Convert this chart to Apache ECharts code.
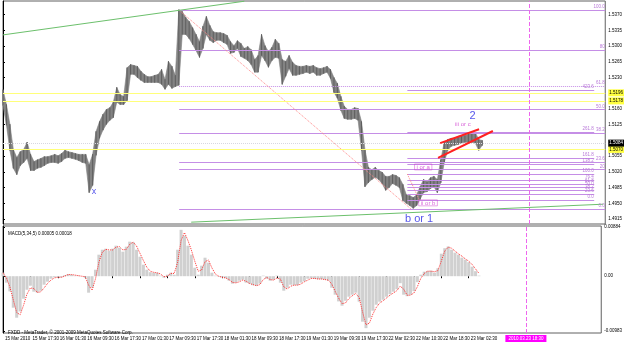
<!DOCTYPE html>
<html><head><meta charset="utf-8">
<script src="https://cdn.jsdelivr.net/npm/echarts@6/dist/echarts.min.js"></script>
<style>html,body{margin:0;padding:0;background:#fff}#c{width:625px;height:342px}</style>
</head><body><div id="c"></div>
<script>
// ---- time axis (trading hours from 15 Mar 09:30) ----
const tickLabels = ['15 Mar 2010','15 Mar 17:30','16 Mar 01:30','16 Mar 09:30','16 Mar 17:30','17 Mar 01:30','17 Mar 09:30','17 Mar 17:30','18 Mar 01:30','18 Mar 09:30','18 Mar 17:30','19 Mar 01:30','19 Mar 09:30','19 Mar 17:30','22 Mar 02:30','22 Mar 10:30','22 Mar 18:30','23 Mar 02:30'];
const tickHours = tickLabels.map((_, i) => i * 8);
const lastHourOnChart = 174.7;
const markerHour = 152.7;
const markerLabel = '2010.03.23 18:30';

// ---- EURUSD hourly high / low ----
const priceHigh = [1.5202,1.5169,1.5125,1.5069,1.5051,1.5064,1.5069,1.5085,1.5058,1.5042,1.5046,1.5049,1.5053,1.5053,1.5055,1.5058,1.5055,1.5060,1.5067,1.5064,
1.5062,1.5060,1.5058,1.5058,1.5058,1.5035,1.5058,1.5109,1.5131,1.5147,1.5158,1.5162,1.5174,1.5207,1.5191,1.5187,1.5251,1.5258,1.5256,1.5254,
1.5243,1.5236,1.5231,1.5231,1.5234,1.5236,1.5247,1.5225,1.5265,1.5254,1.5234,1.5380,1.5376,1.5363,1.5354,1.5340,1.5325,1.5309,1.5343,1.5365,
1.5345,1.5331,1.5329,1.5329,1.5327,1.5323,1.5309,1.5300,1.5311,1.5305,1.5294,1.5298,1.5291,1.5269,1.5278,1.5325,1.5300,1.5287,1.5296,1.5314,
1.5305,1.5269,1.5265,1.5278,1.5263,1.5256,1.5254,1.5254,1.5256,1.5254,1.5256,1.5251,1.5249,1.5251,1.5254,1.5247,1.5229,1.5216,1.5187,1.5165,
1.5158,1.5158,1.5162,1.5160,1.5131,1.5069,1.5029,1.5024,1.5029,1.5022,1.5018,1.5009,1.5009,1.5013,1.5011,1.5006,1.4991,1.4968,1.4966,1.4962,
1.4968,1.4986,1.5002,1.4997,1.5006,1.5009,1.5002,1.5046,1.5085,1.5091,1.5094,1.5094,1.5098,1.5100,1.5100,1.5103,1.5105,1.5107,1.5091,1.5089];
const priceLow = [1.5169,1.5125,1.5069,1.5029,1.5015,1.5035,1.5042,1.5051,1.5024,1.5024,1.5029,1.5031,1.5035,1.5040,1.5042,1.5042,1.5040,1.5044,1.5051,1.5053,
1.5051,1.5049,1.5046,1.5042,1.5040,1.4975,1.4991,1.5058,1.5096,1.5114,1.5127,1.5136,1.5142,1.5176,1.5171,1.5171,1.5180,1.5238,1.5238,1.5231,
1.5225,1.5220,1.5220,1.5220,1.5220,1.5220,1.5216,1.5205,1.5216,1.5207,1.5211,1.5214,1.5327,1.5327,1.5318,1.5305,1.5291,1.5276,1.5296,1.5327,
1.5314,1.5309,1.5314,1.5314,1.5309,1.5305,1.5285,1.5287,1.5296,1.5278,1.5274,1.5269,1.5260,1.5243,1.5243,1.5280,1.5269,1.5254,1.5269,1.5276,
1.5274,1.5216,1.5234,1.5251,1.5236,1.5236,1.5238,1.5240,1.5243,1.5240,1.5243,1.5236,1.5236,1.5240,1.5243,1.5229,1.5198,1.5185,1.5158,1.5140,
1.5138,1.5138,1.5140,1.5136,1.5069,1.4988,1.4997,1.5004,1.5009,1.5004,1.4995,1.4980,1.4986,1.4995,1.4991,1.4986,1.4957,1.4951,1.4946,1.4940,
1.4946,1.4960,1.4975,1.4977,1.4984,1.4988,1.4975,1.4997,1.5042,1.5069,1.5078,1.5080,1.5082,1.5085,1.5087,1.5087,1.5087,1.5085,1.5069,1.5080];

// ---- MACD(5,34,5) histogram and signal ----
const macdHist = [0.00063,-0.00116,-0.00272,-0.00564,-0.00743,-0.0063,-0.00403,-0.00242,-0.0017,-0.00277,-0.00295,-0.0026,-0.00152,-0.00098,-0.00045,-0.0002,-0.0002,-0.0002,0.00018,0.00036,
0.00027,0.0001,0.0001,0.0,-0.00027,-0.00295,-0.00206,0.00116,0.00385,0.00474,0.00492,0.00456,0.00492,0.00546,0.0051,0.00439,0.00528,0.00618,0.00609,0.00474,
0.00349,0.00206,0.00116,0.00072,0.00063,0.00063,0.0001,-0.00027,0.00027,0.00063,0.00027,0.00474,0.0083,0.00725,0.00546,0.00385,0.00152,0.00027,0.00188,0.00331,
0.00242,0.00063,0.0001,-0.0001,-0.0002,-0.00036,-0.0008,-0.00134,-0.00116,-0.0008,-0.00063,-0.00116,-0.00134,-0.00161,-0.0017,-0.00134,0.0001,-0.00045,-0.0008,-0.00063,
0.0001,-0.00116,-0.0026,-0.00206,-0.00152,-0.00161,-0.00161,-0.00116,-0.0009,-0.00045,-0.00036,-0.00045,-0.00054,-0.00054,-0.00063,-0.0008,-0.00206,-0.00331,-0.00451,-0.00528,
-0.00439,-0.00367,-0.00331,-0.00295,-0.00456,-0.00814,-0.0093,-0.00743,-0.00618,-0.0051,-0.00456,-0.00421,-0.00367,-0.00322,-0.00277,-0.00233,-0.00125,-0.00331,-0.00358,-0.00331,
-0.00268,-0.00107,0.00027,0.00081,0.0009,0.00098,0.00063,0.00143,0.00403,0.00501,0.00533,0.00474,0.00421,0.00385,0.00331,0.00295,0.00251,0.0017,0.0009,0.0001];
const macdSignal = [0.0006,-0.0003,-0.0019,-0.0042,-0.0065,-0.0069,-0.0052,-0.0032,-0.0021,-0.0022,-0.0029,-0.0028,-0.0021,-0.0013,-0.0007,-0.0003,-0.0002,-0.0002,0.0000,0.0003,
0.0003,0.0002,0.0001,0.0000,-0.0001,-0.0016,-0.0025,-0.0005,0.0025,0.0043,0.0048,0.0047,0.0047,0.0052,0.0053,0.0047,0.0048,0.0057,0.0061,0.0054,
0.0041,0.0028,0.0016,0.0009,0.0007,0.0006,0.0004,-0.0001,0.0000,0.0005,0.0005,0.0025,0.0064,0.0078,0.0064,0.0047,0.0027,0.0009,0.0011,0.0026,
0.0029,0.0015,0.0004,0.0000,-0.0002,-0.0003,-0.0006,-0.0011,-0.0012,-0.0010,-0.0007,-0.0009,-0.0013,-0.0015,-0.0017,-0.0015,-0.0006,-0.0002,-0.0006,-0.0007,
-0.0003,-0.0005,-0.0019,-0.0023,-0.0018,-0.0016,-0.0016,-0.0014,-0.0010,-0.0007,-0.0004,-0.0004,-0.0005,-0.0005,-0.0006,-0.0007,-0.0014,-0.0027,-0.0039,-0.0049,
-0.0048,-0.0040,-0.0035,-0.0031,-0.0038,-0.0064,-0.0087,-0.0084,-0.0068,-0.0056,-0.0048,-0.0044,-0.0039,-0.0034,-0.0030,-0.0026,-0.0018,-0.0023,-0.0034,-0.0034,
-0.0030,-0.0019,-0.0004,0.0005,0.0009,0.0009,0.0008,0.0010,0.0027,0.0045,0.0052,0.0050,0.0045,0.0040,0.0036,0.0031,0.0027,0.0021,0.0013,0.0005];

// ---- price axis labels ----
const priceTicks = [1.4915,1.4950,1.4985,1.5020,1.5055,1.5125,1.5160,1.5230,1.5265,1.5300,1.5335,1.5370];
const macdTicks = [0.00884, 0, -0.00983];
const macdTickLabels = ['0.00884','0.00','-0.00983'];

// ---- Fibonacci objects ----
const fibMainHigh = 1.5380, fibMainLow = 1.4937, fibMainStart = 51.1, fibMainEnd = 118.4;
const fibMainLevels = [0, 20, 23.6, 38.2, 50, 61.8, 80, 100];
const fibMainNames = ['0.0','20','23.6','38.2','50.0','61.8','80','100.0'];
const fib2High = 1.5015, fib2Low = 1.4957, fib2Start = 117.3, fib2End = 120.8;
const fib2Levels = [0, 23.6, 38.2, 50, 61.8, 76.4, 100, 138.2, 161.8, 261.8, 423.6];
const fib2Names = ['0.0','23.6','38.2','50.0','61.8','76.4','100.0','138.2','161.8','261.8','423.6'];

// ---- horizontal levels ----
const yellowLevels = [1.5196, 1.5178, 1.5070];
const bidPrice = 1.5084;

// ---- trend lines [hour1, price1, hour2, price2] ----
const greenLines = [[0, 1.5325, 70, 1.5400], [54.6, 1.4908, 174.2, 1.4948]];
const redChannel = [[126.8, 1.5084, 138.1, 1.5115], [126.2, 1.5051, 142.1, 1.5111]];

// ---- wave labels ----
const waveText = ['x', 'b or 1', '2', 'iii or c', 'i or a', 'ii or b'];
const waveHour = [26.4, 120.7, 136.2, 133.4, 121.9, 123.3];
const wavePrice = [1.4977, 1.4915, 1.5144, 1.5125, 1.5031, 1.4951];

// ================= build =================
const FONT = 'Liberation Sans, Arial, sans-serif';
const hours = priceHigh.map((_, i) => i);
const Y_MAX = 1.54005, Y_MIN = 1.49039;
const M_MAX = 0.008986, M_MIN = -0.010167;
const PURPLE = '#c58ee6';

function seg(x1, y1, x2, y2, style, label) {
  return [{coord: [x1, y1], lineStyle: style, label: label || {show: false}}, {coord: [x2, y2]}];
}
const ml = [];
fibMainLevels.forEach((lv, i) => {
  const p = fibMainLow + (fibMainHigh - fibMainLow) * lv / 100;
  ml.push(seg(fibMainStart, p, lastHourOnChart, p,
    {color: PURPLE, width: 1, type: lv === 61.8 ? 'dotted' : 'solid'},
    {show: true, position: 'insideEndTop', formatter: fibMainNames[i], fontSize: 4.5, color: '#b97ad8', distance: 0.5, fontFamily: FONT}));
});
fib2Levels.forEach((lv, i) => {
  const p = fib2Low + (fib2High - fib2Low) * lv / 100;
  ml.push(seg(fib2Start, p, lastHourOnChart - 3.2, p,
    {color: PURPLE, width: 1, type: 'solid'},
    {show: true, position: 'insideEndTop', formatter: fib2Names[i], fontSize: 4.5, color: '#b97ad8', distance: 0.5, fontFamily: FONT}));
});
ml.push(seg(fibMainStart, fibMainHigh, fibMainEnd, fibMainLow, {color: '#ff8a8a', width: 1, type: 'dotted'}));
ml.push(seg(fib2Start, fib2High, fib2End, fib2Low, {color: '#ff8a8a', width: 1, type: 'dotted'}));
yellowLevels.forEach(p => ml.push(seg(0, p, lastHourOnChart, p, {color: '#ffff7a', width: 1, type: 'solid'},
  {show: true, position: 'end', formatter: p.toFixed(4), fontSize: 4.5, color: '#000', backgroundColor: '#ffff40', padding: [1, 1], distance: 3, fontFamily: FONT})));
ml.push(seg(0, bidPrice, lastHourOnChart, bidPrice, {color: '#d8d8e0', width: 1, type: 'dotted'},
  {show: true, position: 'end', formatter: bidPrice.toFixed(4), fontSize: 4.5, color: '#fff', backgroundColor: '#000', padding: [1, 1], distance: 3, fontFamily: FONT}));
greenLines.forEach(g => ml.push(seg(g[0], g[1], g[2], g[3], {color: '#6cc06c', width: 1, type: 'solid'})));
redChannel.forEach(g => ml.push(seg(g[0], g[1], g[2], g[3], {color: '#ff2020', width: 2, type: 'solid'})));
ml.push(seg(markerHour, Y_MIN, markerHour, Y_MAX, {color: '#ee66ee', width: 1, type: 'dashed'}));

const waveStyles = [
  {fontSize: 9, color: '#2a2ae6'},
  {fontSize: 11, color: '#2a2ae6'},
  {fontSize: 11, color: '#2a2ae6'},
  {fontSize: 6, color: '#d040d0'},
  {fontSize: 6, color: '#d040d0', borderColor: '#d040d0', borderWidth: 0.6, padding: [0, 2]},
  {fontSize: 6, color: '#d040d0', borderColor: '#d040d0', borderWidth: 0.6, padding: [0, 2]}
];

// band data: each hour joined to the next one
const bandData = hours.map(h => {
  const n = Math.min(h + 1, hours.length - 1);
  return [h, priceLow[h], priceHigh[h], n, priceLow[n], priceHigh[n]];
});

const option = {
  animation: false,
  backgroundColor: '#ffffff',
  textStyle: {fontFamily: FONT},
  title: [
    {text: 'MACD(5,34,5) 0.00005 0.00018', left: 3, top: 226, textStyle: {fontSize: 4.5, fontWeight: 'normal', color: '#000', fontFamily: FONT}},
    {text: 'FXDD - MetaTrader, \u00a9 2001-2009 MetaQuotes Software Corp.', left: 3, top: 325, textStyle: {fontSize: 4.5, fontWeight: 'normal', color: '#000', fontFamily: FONT}}
  ],
  grid: [
    {left: 3, right: 17, top: 1, height: 223, show: true, borderColor: '#606060', borderWidth: 1, backgroundColor: '#fff'},
    {left: 3, right: 17, top: 226, height: 107, show: true, borderColor: '#606060', borderWidth: 1, backgroundColor: '#fff'}
  ],
  xAxis: [
    {gridIndex: 0, type: 'value', min: 0, max: lastHourOnChart, axisLine: {show: false}, axisTick: {show: false}, axisLabel: {show: false}, splitLine: {show: false}},
    {gridIndex: 1, type: 'value', min: 0, max: lastHourOnChart, axisLine: {show: false},
     axisTick: {show: true, customValues: tickHours, length: 2, lineStyle: {color: '#000'}},
     axisLabel: {customValues: tickHours, formatter: v => tickLabels[Math.round(v / 8)] || '', fontSize: 4.5, color: '#000', align: 'left', margin: 3, padding: [0, 0, 0, 2], fontFamily: FONT},
     splitLine: {show: false}}
  ],
  yAxis: [
    {gridIndex: 0, type: 'value', position: 'right', min: Y_MIN, max: Y_MAX, axisLine: {show: true, lineStyle: {color: '#000'}},
     axisTick: {show: true, customValues: priceTicks, length: 2, lineStyle: {color: '#000'}},
     axisLabel: {customValues: priceTicks, formatter: v => v.toFixed(4), fontSize: 4.5, color: '#000', margin: 3, fontFamily: FONT},
     splitLine: {show: false}},
    {gridIndex: 1, type: 'value', position: 'right', min: M_MIN, max: M_MAX, axisLine: {show: true, lineStyle: {color: '#000'}},
     axisTick: {show: true, customValues: macdTicks, length: 2, lineStyle: {color: '#000'}},
     axisLabel: {customValues: macdTicks, formatter: v => macdTickLabels[macdTicks.findIndex(t => Math.abs(t - v) < 1e-7)] || '', fontSize: 4.5, color: '#000', margin: 3, fontFamily: FONT},
     splitLine: {show: false}}
  ],
  series: [
    {
      type: 'line', xAxisIndex: 0, yAxisIndex: 0, data: [], silent: true, z: 1,
      markLine: {silent: true, symbol: ['none', 'none'], animation: false, label: {show: false}, data: ml}
    },
    {
      type: 'custom', xAxisIndex: 0, yAxisIndex: 0, z: 3,
      data: bandData,
      renderItem: (params, api) => {
        const h = api.value(0), n = api.value(3);
        const a = api.coord([h, api.value(2)]);
        const b = api.coord([n, api.value(5)]);
        const c = api.coord([n, api.value(4)]);
        const d = api.coord([h, api.value(1)]);
        return {type: 'group', children: [
          {type: 'polygon', shape: {points: [[a[0], a[1] - 0.4], [b[0], b[1] - 0.4], [c[0], c[1] + 0.4], [d[0], d[1] + 0.4]]},
           style: {fill: '#838383', stroke: '#838383', lineWidth: 0.6}},
          {type: 'line', shape: {x1: d[0], y1: d[1] + 0.6, x2: a[0], y2: a[1] - 0.6}, style: {stroke: '#5e5e5e', lineWidth: 1}}
        ]};
      }
    },
    {
      type: 'scatter', xAxisIndex: 0, yAxisIndex: 0, symbolSize: 0, z: 6,
      data: waveText.map((t, i) => ({value: [waveHour[i], wavePrice[i]], label: Object.assign({show: true, position: 'inside', formatter: t, fontFamily: FONT}, waveStyles[i])}))
    },
    {
      type: 'bar', xAxisIndex: 1, yAxisIndex: 1, barWidth: 3, z: 2,
      itemStyle: {color: '#d0d0d0'},
      data: hours.map(h => [h, macdHist[h]]),
      markLine: {silent: true, symbol: ['none', 'none'], animation: false,
        data: [seg(markerHour, M_MIN, markerHour, M_MAX, {color: '#ee66ee', width: 1, type: 'dashed'},
          {show: true, position: 'start', formatter: markerLabel, fontSize: 4.5, color: '#fff', backgroundColor: '#ff00ff', padding: [1, 3], distance: 2, fontFamily: FONT})]}
    },
    {
      type: 'line', xAxisIndex: 1, yAxisIndex: 1, symbol: 'none', z: 4,
      lineStyle: {color: '#ff3030', width: 1, type: 'dotted'},
      data: hours.map(h => [h, macdSignal[h]])
    }
  ]
};
echarts.init(document.getElementById('c'), null, {renderer: 'canvas'}).setOption(option);
</script></body></html>
